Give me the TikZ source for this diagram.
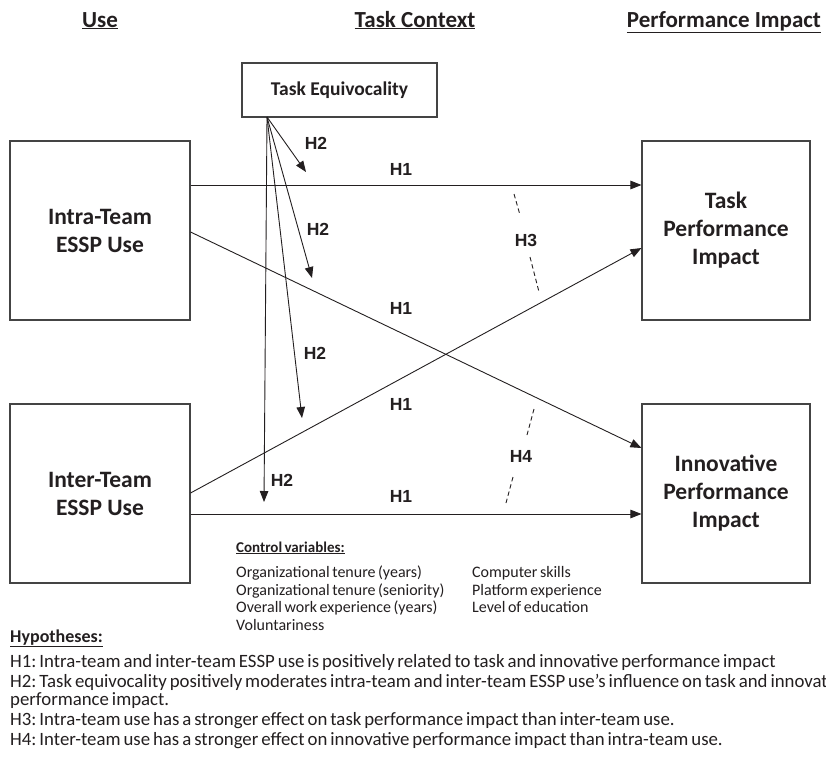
\documentclass[tikz,border=0pt]{standalone}
\usepackage{fontspec}
\setmainfont{Carlito}
\newfontfamily\arialfont{Liberation Sans}
\newfontfamily\tightfont[WordSpace=0.7]{Carlito}
\usetikzlibrary{arrows.meta}
\definecolor{ink}{HTML}{231F20}
\definecolor{boxline}{HTML}{444444}
\begin{document}
\begin{tikzpicture}[x=1pt,y=-1pt,
  box/.style={draw=boxline,line width=1.1pt,fill=white,inner sep=0pt,align=center,text=ink,font=\fontsize{23.5}{28}\selectfont\bfseries},
  arr/.style={draw=ink,line width=0.9pt,-{Triangle[length=11pt,width=8.5pt]}},
  hlab/.style={text=ink,font=\arialfont\fontsize{17.5}{20}\selectfont\bfseries},
  dsh/.style={draw=ink,line width=0.9pt,dash pattern=on 4.5pt off 3pt},
  head/.style={text=ink,font=\fontsize{23}{26}\selectfont\bfseries,anchor=base},
  ctl/.style={text=ink,font=\tightfont\frenchspacing\fontsize{16}{18}\selectfont,anchor=base west,inner sep=0pt},
  hyp/.style={text=ink,font=\tightfont\frenchspacing\fontsize{18.8}{20}\selectfont,anchor=base west,inner sep=0pt}]
\clip (0,0) rectangle (826,763);
\fill[white] (0,0) rectangle (826,763);
% headers
\node[head] (hUse) at (100,27) {\underline{Use}};
\node[head] (hTask) at (415,27) {\underline{Task Context}};
\node[head] (hPerf) at (724,27) {\underline{Performance Impact}};
% boxes
\node[box,minimum width=195pt,minimum height=54pt,font=\fontsize{19.5}{22}\selectfont\bfseries] (eq) at (339.5,90) {Task Equivocality};
\node[box,minimum width=180pt,minimum height=179pt] (intra) at (100,230.5) {Intra-Team\\ESSP Use};
\node[box,minimum width=180pt,minimum height=179pt] (inter) at (100,493.5) {Inter-Team\\ESSP Use};
\node[box,minimum width=168pt,minimum height=179pt] (task) at (726,230.5) {Task\\Performance\\Impact};
\node[box,minimum width=168pt,minimum height=179pt] (innov) at (726,493.5) {Innovative\\Performance\\Impact};
% H1 arrows
\draw[arr] (intra.east |- 0,185) -- (task.west |- 0,185);
\draw[arr] (intra.east |- 0,232) -- (innov.west |- 0,448);
\draw[arr] (inter.east |- 0,493) -- (task.west |- 0,248);
\draw[arr] (inter.east |- 0,514) -- (innov.west |- 0,514);
% H2 arrows
\coordinate (eqs) at (267,117);
\coordinate (t1) at (306,172);
\coordinate (t2) at (312,278);
\coordinate (t3) at (302,418);
\coordinate (t4) at (264,502);
\draw[arr] (eqs) -- (t1);
\draw[arr] (eqs) -- (t2);
\draw[arr] (eqs) -- (t3);
\draw[arr] (eqs) -- (t4);
% labels
\node[hlab] (l11) at (401,169) {H1};
\node[hlab] (l12) at (401,308) {H1};
\node[hlab] (l13) at (401,404) {H1};
\node[hlab] (l14) at (401,496) {H1};
\node[hlab] (l21) at (316,143) {H2};
\node[hlab] (l22) at (318,229) {H2};
\node[hlab] (l23) at (315,353) {H2};
\node[hlab] (l24) at (282,480) {H2};
\node[hlab] (l3) at (526,240) {H3};
\node[hlab] (l4) at (521,456) {H4};
% dashed
\coordinate (d1a) at (514,194); \coordinate (d1b) at (520,215);
\coordinate (d2a) at (530,257); \coordinate (d2b) at (539,292);
\coordinate (d3a) at (534,409); \coordinate (d3b) at (527,435);
\coordinate (d4a) at (513,477); \coordinate (d4b) at (506,503);
\draw[dsh] (d1a) -- (d1b);
\draw[dsh] (d2a) -- (d2b);
\draw[dsh] (d3a) -- (d3b);
\draw[dsh] (d4a) -- (d4b);
% control variables
\node[ctl,font=\tightfont\fontsize{15}{18}\selectfont\bfseries] (cvt) at (236,552) {\underline{Control variables:}};
\node[ctl] (c1) at (236,577.5) {Organizational tenure (years)};
\node[ctl] (c2) at (236,595) {Organizational tenure (seniority)};
\node[ctl] (c3) at (236,612.5) {Overall work experience (years)};
\node[ctl] (c4) at (236,630) {Voluntariness};
\node[ctl] (c5) at (472,577.5) {Computer skills};
\node[ctl] (c6) at (472,595) {Platform experience};
\node[ctl] (c7) at (472,612.5) {Level of education};
% hypotheses
\node[hyp,font=\tightfont\fontsize{18}{20}\selectfont\bfseries] (hyt) at (10,642) {\underline{Hypotheses:}};
\node[hyp] (hy1) at (10,667) {H1: Intra-team and inter-team ESSP use is positively related to task and innovative performance impact};
\node[hyp] (hy2) at (10,687) {H2: Task equivocality positively moderates intra-team and inter-team ESSP use’s influence on task and innovative};
\node[hyp] (hy2b) at (10,705) {performance impact.};
\node[hyp] (hy3) at (10,725) {H3: Intra-team use has a stronger effect on task performance impact than inter-team use.};
\node[hyp] (hy4) at (10,745) {H4: Inter-team use has a stronger effect on innovative performance impact than intra-team use.};
\end{tikzpicture}
\end{document}
